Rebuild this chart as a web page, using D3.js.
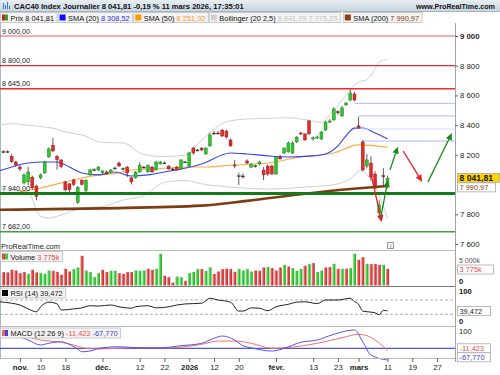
<!DOCTYPE html>
<html>
<head>
<meta charset="utf-8">
<script src="https://cdn.jsdelivr.net/npm/d3@7"></script>
<style>
  body { margin: 0; background: #fff; }
  svg text { font-family: "Liberation Sans", Arial, sans-serif; }
</style>
</head>
<body>
<div id="chart"></div>
<script>
// index 0 = 3 nov. 2025, first candle = 28 oct. (index -4), last = 11 mars 2026 (index 89)
const firstIndex = -4;
// [open, high, low, close]
const ohlc = [
  [8220,8232,8210,8222],[8222,8230,8212,8218],[8190,8205,8145,8155],[8152,8160,8120,8132],
  [8118,8130,8090,8105],[8011,8075,8000,8065],[8018,8120,7997,8085],[8050,8060,7965,7978],
  [7990,8000,7895,7920],[8045,8075,8035,8065],[8078,8160,8075,8152],[8186,8250,8180,8240],
  [8265,8315,8218,8226],[8190,8200,8100,8168],[8166,8170,8110,8120],[8018,8025,7955,7964],
  [8005,8010,7940,7965],[8031,8040,7990,8000],[7880,7990,7870,7980],[8030,8035,7995,8000],
  [7960,8035,7950,8030],[8065,8105,8060,8098],[8098,8110,8090,8100],[8098,8125,8090,8118],
  [8080,8095,8070,8092],[8085,8095,8065,8072],[8080,8105,8075,8098],[8110,8120,8100,8112],
  [8145,8155,8120,8125],[8105,8115,8095,8108],[8118,8125,8050,8078],[8045,8050,8000,8018],
  [8045,8090,8040,8085],[8085,8150,8080,8130],[8118,8125,8110,8116],[8085,8135,8080,8130],
  [8118,8125,8080,8085],[8098,8160,8095,8152],[8139,8160,8135,8152],[8145,8155,8140,8146],
  [8125,8130,8100,8105],[8105,8112,8098,8104],[8118,8125,8095,8098],[8105,8170,8100,8166],
  [8152,8160,8145,8153],[8125,8220,8120,8213],[8246,8255,8200,8213],[8233,8240,8225,8230],
  [8246,8250,8225,8233],[8206,8250,8200,8246],[8260,8350,8255,8334],[8347,8360,8335,8345],
  [8347,8360,8340,8346],[8367,8375,8320,8327],[8360,8370,8310,8320],[8300,8310,8255,8260],
  [8132,8166,8110,8125],[8058,8080,7997,8060],[8058,8075,8040,8056],[8159,8170,8140,8145],
  [8118,8140,8110,8139],[8125,8135,8115,8127],[8139,8160,8130,8152],[8098,8118,8031,8065],
  [8125,8135,8060,8071],[8125,8135,8065,8071],[8071,8190,8065,8186],[8186,8200,8170,8172],
  [8213,8250,8205,8246],[8220,8290,8215,8280],[8213,8290,8205,8280],[8287,8325,8280,8320],
  [8347,8355,8335,8341],[8341,8345,8295,8300],[8428,8435,8335,8341],[8310,8325,8295,8314],
  [8315,8330,8305,8320],[8307,8360,8300,8354],[8367,8430,8360,8421],[8420,8440,8415,8428],
  [8435,8520,8430,8509],[8490,8500,8470,8489],[8462,8530,8455,8516],[8536,8555,8530,8549],
  [8569,8640,8560,8616],[8610,8625,8560,8569],[8395,8455,8375,8385],[8287,8300,8090,8098],
  [8125,8205,8110,8166],[8145,8190,8030,8051],[8071,8090,7970,7977],[7809,7895,7782,7863],
  [8060,8110,7990,8057],[7990,8060,7975,8041.81]
];
// volume in thousands
const volumes = [
  3045,2970,3570,3410,2810,3045,2650,3570,2970,2810,2650,3410,3340,3110,2430,3800,3180,3720,4100,6750,
  3410,3045,1900,2810,3570,3045,3340,3340,2810,2650,3045,3045,3410,3340,3410,3800,3570,3800,7200,2200,
  1900,680,2050,1900,1070,2810,3045,3720,3720,3340,4100,2650,3180,3720,3800,3720,3110,3720,3410,3720,
  3180,3410,3340,4100,4180,3950,3410,4100,4700,4320,3950,3340,3800,4480,4860,5090,3045,3410,4100,4180,
  4930,3800,3800,3800,3950,7200,5840,6450,4930,4860,4930,4700,4700,3775
];
// bar colour: u = close above previous close, d = below
const volumeDir = ("dddddduddu" + "uuddddduud" + "uuuudduudd" + "dduuudduud" + "dduuduuudu" +
  "udddddduuu" + "udddudddud" + "uuududuudd" + "ududuuddud" + "ddud").split("");

// indicator readings [index, value]
const sma20 = [[-5,8092],[-2,8118],[2,8145],[6,8152],[9,8152],[12,8118],[15,8078],[19,8065],[23,8085],[27,8058],
  [31,8065],[35,8085],[39,8105],[44,8139],[51,8213],[55,8206],[60,8193],[65,8186],[71,8193],[74,8206],
  [77,8260],[79,8330],[81,8380],[83,8381],[86,8347],[89,8308.52]];
const sma50 = [[-5,7930],[0,7950],[5,7977],[11,8018],[15,8044],[19,8065],[24,8078],[27,8098],[32,8105],
  [36,8112],[40,8118],[44,8118],[52,8132],[60,8145],[68,8186],[76,8213],[82,8267],[89,8251.92]];
const sma200 = [[-5,7830],[20,7840],[44,7858],[55,7890],[68,7935],[80,7970],[89,7990.97]];
const bollUp = [[-5,8400],[-2,8410],[2,8400],[5,8390],[8,8380],[11,8355],[15,8334],[20,8284],[25,8280],
  [30,8202],[35,8189],[40,8197],[44,8300],[50,8423],[55,8441],[60,8446],[65,8450],[70,8432],[73,8420],
  [75,8470],[78,8569],[80,8640],[82,8690],[84,8705],[86,8780],[87,8825],[89,8841.79]];
const bollLow = [[-5,7975],[-2,7965],[2,7950],[3,7905],[4,7830],[5,7785],[7,7775],[10,7795],[15,7842],
  [20,7852],[25,7896],[30,7926],[35,8015],[40,8027],[45,8000],[50,7985],[55,7975],[60,7970],[65,7975],
  [70,7985],[75,7995],[80,8040],[82.5,8095],[84,8065],[86.5,7957],[89,7775.25]];
const rsi = [[-5,65],[-2,61],[0,56],[2,45],[4,37],[5,51],[7,64],[9,59],[10,42],[13,45],[15,48],[17,54],[19,53],
  [22,56],[24,51],[27,47],[28,51],[31,54],[33,48],[36,51],[38,56],[40,59],[44,61],[46,75],[48,70],[51,64],
  [53,39],[54,39],[56,48],[58,47],[60,40],[62,51],[65,58],[67,64],[69,65],[72,60],[74,70],[77,70],[80,75],
  [81,66],[82,58],[83,39],[85,36],[86,34],[87,29],[88,41],[89,39.472]];
const macd = [[-5,95],[-2,80],[1,58],[2,48],[5,19],[7,29],[10,38],[11,32],[14,-4],[15,-20],[18,-10],[19,0],
  [24,9],[29,3],[34,3],[39,15],[44,29],[47,58],[49,71],[52,48],[54,15],[56,3],[61,-16],[64,0],[68,35],
  [72,48],[76,81],[81,106],[83,38],[85,-39],[89,-67.77]];
const macdSignal = [[-5,85],[-2,75],[2,64],[5,48],[10,35],[13,19],[16,0],[19,-4],[27,3],[36,3],[44,23],
  [48,42],[52,42],[56,29],[61,0],[64,3],[72,29],[78,61],[82,81],[84,73],[89,-11.423]];

// drawn objects
const redLevels = [9000, 8800, 8645];
const greenLevels = [7940, 7682];
const blueLevels = [[81, 8547], [82, 8462], [82.5, 8374], [83, 8293]];
const arrows = [
  {from: [85, 8072], to: [87.6, 7748], color: "red"},
  {from: [87.4, 7785], to: [89.1, 8031], color: "green"},
  {from: [89.6, 8098], to: [91.5, 8255], color: "green"},
  {from: [92.8, 8226], to: [97.4, 8018], color: "red"},
  {from: [98.8, 8018], to: [104.6, 8347], color: "green"}
];

const priceTicks = [7600, 7800, 8200, 8400, 8600, 8800, 9000];
const tickIdx = [0, 5, 11, 20, 29, 35, 41, 47, 53, 62, 71, 77, 82, 89, 95, 101];
const tickText = ["nov.", "10", "18", "déc.", "12", "22", "2026", "12", "20", "févr.", "13", "23", "mars", "11", "19", "27"];
const boldTicks = ["nov.", "déc.", "2026", "févr.", "mars"];

const W = 500, H = 375, axisX = 455;
const fr = d3.formatLocale({decimal: ",", thousands: "\u00a0", grouping: [3], currency: ["", ""]});
const f0 = fr.format(",.0f"), f2 = fr.format(",.2f");

const svg = d3.select("#chart").append("svg").attr("width", W).attr("height", H);
const defs = svg.append("defs");

const x = d3.scaleLinear().domain([0, 89]).range([19.9, 387.5]);
const yP = d3.scaleLinear().domain([7600, 9000]).range([244, 36]);
const yV = d3.scaleLinear().domain([0, 5000]).range([285.5, 263.5]);
const yR = d3.scaleLinear().domain([0, 100]).range([325, 289.3]);
const yM = d3.scaleLinear().domain([0, 100]).range([348.3, 331]);

function clip(id, y0, y1) {
  defs.append("clipPath").attr("id", id).append("rect").attr("x", 0).attr("y", y0).attr("width", axisX).attr("height", y1 - y0);
  return svg.append("g").attr("clip-path", `url(#${id})`);
}

// header
const hg = defs.append("linearGradient").attr("id", "hdr").attr("x1", 0).attr("y1", 0).attr("x2", 0).attr("y2", 1);
hg.append("stop").attr("offset", 0).attr("stop-color", "#e8eef3");
hg.append("stop").attr("offset", 1).attr("stop-color", "#c8d5df");
svg.append("rect").attr("width", W).attr("height", 11).attr("fill", "url(#hdr)");
svg.append("line").attr("x1", 0).attr("x2", W).attr("y1", 11.5).attr("y2", 11.5).attr("stroke", "#a8b6c2");
[[3, 6], [5, 4], [7, 7], [9, 3]].forEach(([bx, h]) =>
  svg.append("rect").attr("x", bx).attr("y", 9 - h).attr("width", 1).attr("height", h).attr("fill", "#3a7bd5"));
svg.append("text").attr("x", 14).attr("y", 8.6).attr("font-size", 7.6).attr("font-weight", "bold").attr("fill", "#111")
  .text("CAC40 Index Journalier 8 041,81 -0,19 % 11 mars 2026, 17:35:01");
svg.append("text").attr("x", 495).attr("y", 8.6).attr("text-anchor", "end").attr("font-size", 7.2).attr("font-weight", "bold")
  .attr("fill", "#111").text("www.ProRealTime.com");

// legend boxes
function legendBox(x0, y0, icon, parts) {
  const g = svg.append("g");
  const bg = g.append("rect").attr("x", x0).attr("y", y0).attr("height", 10).attr("fill", "#f3f3f3").attr("stroke", "#c9c9c9");
  if (icon.length === 2) {
    g.append("rect").attr("x", x0 + 1.5).attr("y", y0 + 2).attr("width", 3).attr("height", 6).attr("fill", icon[0]);
    g.append("rect").attr("x", x0 + 4.5).attr("y", y0 + 2).attr("width", 3).attr("height", 6).attr("fill", icon[1]);
  } else {
    g.append("rect").attr("x", x0 + 1.5).attr("y", y0 + 2).attr("width", 6).attr("height", 6).attr("fill", icon[0]);
  }
  const t = g.append("text").attr("x", x0 + 10).attr("y", y0 + 8).attr("font-size", 7.4).attr("fill", "#111");
  parts.forEach(p => t.append("tspan").attr("fill", p[1]).text(p[0]));
  const w = t.node().getComputedTextLength() + 13;
  bg.attr("width", w);
  return w;
}
const legend = [
  {icon: ["#d42020", "#20b020"], parts: [["Prix ", "#111"], ["8 041,81", "#111"]]},
  {icon: ["#0a0aff"], parts: [["SMA (20) ", "#111"], ["8 308,52", "#2a2ae8"]]},
  {icon: ["#ff9900"], parts: [["SMA (50) ", "#111"], ["8 251,92", "#ff9a2a"]]},
  {icon: ["#cfcfcf"], parts: [["Bollinger (20 2,5) ", "#111"], ["8 841,79 7 775,25", "#c4c4c4"]]},
  {icon: ["#8a4010"], parts: [["SMA (200) ", "#111"], ["7 990,97", "#8a4010"]]}
];
let lx = 0.5;
legend.forEach((it, k) => { lx += legendBox(lx, 12.5, it.icon, it.parts) + (k === 3 ? 3 : 1); });

// panel frames
svg.append("line").attr("x1", 0.5).attr("x2", 0.5).attr("y1", 23).attr("y2", 358).attr("stroke", "#a9b8c6");
[250.5, 286.5, 326.5].forEach(yy =>
  svg.append("line").attr("x1", 0).attr("x2", axisX).attr("y1", yy).attr("y2", yy).attr("stroke", yy === 286.5 ? "#777" : "#bbb"));
svg.append("line").attr("x1", axisX + 0.5).attr("x2", axisX + 0.5).attr("y1", 23).attr("y2", 362).attr("stroke", "#9aa6b0");

// ---- price panel
const pp = clip("cp", 23, 250);
const line = d3.line().x(d => x(d[0])).y(d => yP(d[1])).curve(d3.curveMonotoneX);
pp.append("path").attr("d", line(bollUp)).attr("fill", "none").attr("stroke", "#cfcfcf").attr("stroke-width", 1);
pp.append("path").attr("d", line(bollLow)).attr("fill", "none").attr("stroke", "#cfcfcf").attr("stroke-width", 1);
pp.append("path").attr("d", line(sma50)).attr("fill", "none").attr("stroke", "#ffab40").attr("stroke-width", 1.1);
pp.append("path").attr("d", line(sma20)).attr("fill", "none").attr("stroke", "#3344ee").attr("stroke-width", 1.1);

redLevels.forEach((v, k) => pp.append("line").attr("x1", 0).attr("x2", axisX).attr("y1", yP(v)).attr("y2", yP(v))
  .attr("stroke", "#ee2a2a").attr("stroke-width", k === 0 ? 1 : 1.3).attr("opacity", k === 0 ? 0.75 : 1));
blueLevels.forEach(([i, v], k) => pp.append("line").attr("x1", x(i)).attr("x2", axisX).attr("y1", yP(v)).attr("y2", yP(v))
  .attr("stroke", k === 2 ? "#d4def7" : "#aabdf0").attr("stroke-width", 1));

// candles
const candles = pp.selectAll("g.candle").data(ohlc).enter().append("g").attr("class", "candle")
  .attr("transform", (d, k) => `translate(${x(firstIndex + k)},0)`);
candles.append("line").attr("y1", d => yP(d[1])).attr("y2", d => yP(d[2])).attr("stroke", "#333").attr("stroke-width", 0.8);
candles.append("rect").attr("x", -1.5).attr("width", 3)
  .attr("y", d => yP(Math.max(d[0], d[3])))
  .attr("height", d => Math.max(1, Math.abs(yP(d[0]) - yP(d[3]))))
  .attr("fill", d => Math.abs(d[3] - d[0]) < 4 ? "#333" : d[3] >= d[0] ? "#2fc42f" : "#e32b2b")
  .attr("stroke", d => d[3] >= d[0] ? "#1a7a1a" : "#8a1515").attr("stroke-width", 0.4);

pp.append("path").attr("d", line(sma200)).attr("fill", "none").attr("stroke", "#7d3c12").attr("stroke-width", 2.6);
greenLevels.forEach((v, k) => pp.append("line").attr("x1", 0).attr("x2", axisX).attr("y1", yP(v)).attr("y2", yP(v))
  .attr("stroke", k === 0 ? "#16791a" : "#3aa33a").attr("stroke-width", k === 0 ? 3 : 1.4));

// arrows
arrows.forEach(a => {
  const x1 = x(a.from[0]), y1 = yP(a.from[1]), x2 = x(a.to[0]), y2 = yP(a.to[1]);
  const col = a.color === "red" ? "#e81c1c" : "#1a8a1a";
  const ang = Math.atan2(y2 - y1, x2 - x1), L = 7, Wd = 3.2;
  const bx = x2 - L * Math.cos(ang), by = y2 - L * Math.sin(ang);
  pp.append("line").attr("x1", x1).attr("y1", y1).attr("x2", bx).attr("y2", by).attr("stroke", col).attr("stroke-width", 1.3);
  pp.append("path").attr("fill", col).attr("d",
    `M${x2},${y2}L${bx + Wd * Math.sin(ang)},${by - Wd * Math.cos(ang)}L${bx - Wd * Math.sin(ang)},${by + Wd * Math.cos(ang)}Z`);
});

// level labels
redLevels.concat(greenLevels).forEach(v => svg.append("text").attr("x", 2).attr("y", yP(v) - 2.5).attr("font-size", 7.2)
  .attr("fill", "#222").text(f2(v)));
svg.append("text").attr("x", 1).attr("y", 249).attr("font-size", 7.4).attr("fill", "#222").text("ProRealTime.com");
svg.append("rect").attr("x", 387.5).attr("y", 242.5).attr("width", 6).attr("height", 6).attr("fill", "#f4f4f4").attr("stroke", "#999");
svg.append("text").attr("x", 390.5).attr("y", 247.8).attr("text-anchor", "middle").attr("font-size", 5.5).attr("fill", "#666").text("i");

// price axis
const ay = svg.append("g").attr("transform", `translate(${axisX},0)`)
  .call(d3.axisRight(yP).tickValues(priceTicks).tickSize(3).tickPadding(2).tickFormat(f0));
ay.select(".domain").remove();
ay.selectAll("line").attr("stroke", "#666");
ay.selectAll("text").attr("font-size", 7.8).attr("fill", "#222").attr("font-family", null)
  .attr("font-weight", d => d === 9000 ? "bold" : null);

function tag(yc, txt, col, fill, bold, w) {
  svg.append("rect").attr("x", axisX + 2.5).attr("y", yc - 4.5).attr("width", w).attr("height", 9)
    .attr("fill", fill).attr("stroke", "#aaa").attr("stroke-width", 0.8);
  svg.append("text").attr("x", axisX + 4.5).attr("y", yc + 3).attr("font-size", bold ? 8.6 : 7.4)
    .attr("font-weight", bold ? "bold" : null).attr("fill", col).text(txt);
}
tag(yP(8041.81) - 0.5, f2(8041.81), "#111", "#ffd500", true, 42);
tag(yP(8041.81) + 9, f2(7990.97), "#8a4010", "#fff", false, 38);

// ---- volume panel
const vgrad = (id, c0, c1, c2) => {
  const g = defs.append("linearGradient").attr("id", id);
  g.append("stop").attr("offset", 0).attr("stop-color", c0);
  g.append("stop").attr("offset", 0.5).attr("stop-color", c1);
  g.append("stop").attr("offset", 1).attr("stop-color", c2);
};
vgrad("vr", "#f6b0b0", "#e04848", "#c02a2a");
vgrad("vg", "#b0f0b0", "#3ccc3c", "#22a822");
const vp = clip("cv", 251, 286);
vp.selectAll("rect.vol").data(volumes).enter().append("rect").attr("class", "vol")
  .attr("x", (d, k) => x(firstIndex + k) - 1.6).attr("width", 3.2)
  .attr("y", d => yV(d)).attr("height", d => yV(0) - yV(d))
  .attr("fill", (d, k) => volumeDir[k] === "u" ? "url(#vg)" : "url(#vr)");
legendBox(0.5, 251.5, ["#e04848", "#3ccc3c"], [["Volume ", "#111"], ["3 775k", "#e04848"]]);
svg.append("text").attr("x", axisX + 4).attr("y", 262.6).attr("font-size", 7).attr("fill", "#555").text("5 000k");
svg.append("text").attr("x", axisX + 4).attr("y", 284.3).attr("font-size", 7.6).attr("font-weight", "bold").attr("fill", "#111").text("0");
tag(yV(3775) + 0.6, "3 775k", "#e04848", "#fff", false, 36);

// ---- RSI panel
const rp = clip("cr", 287, 326);
[70, 30].forEach(v => rp.append("line").attr("x1", 0).attr("x2", axisX).attr("y1", yR(v)).attr("y2", yR(v))
  .attr("stroke", "#999").attr("stroke-dasharray", "3,2").attr("stroke-width", 0.8));
rp.append("path").attr("d", d3.line().x(d => x(d[0])).y(d => yR(d[1])).curve(d3.curveMonotoneX)(rsi))
  .attr("fill", "none").attr("stroke", "#222").attr("stroke-width", 1);
legendBox(0.5, 288, ["#000"], [["RSI (14) 39,472", "#111"]]);
svg.append("text").attr("x", axisX + 4).attr("y", 293.6).attr("font-size", 7.6).attr("font-weight", "bold").attr("fill", "#111").text("100");
svg.append("text").attr("x", axisX + 4).attr("y", 324).attr("font-size", 7.6).attr("font-weight", "bold").attr("fill", "#111").text("0");
tag(yR(39.472), "39,472", "#222", "#fff", false, 33);

// ---- MACD panel
const mp = clip("cm", 327, 362);
mp.append("line").attr("x1", 0).attr("x2", axisX).attr("y1", yM(0)).attr("y2", yM(0)).attr("stroke", "#2a2ad0").attr("stroke-width", 1);
const ml = d3.line().x(d => x(d[0])).y(d => yM(d[1])).curve(d3.curveMonotoneX);
mp.append("path").attr("d", ml(macdSignal)).attr("fill", "none").attr("stroke", "#f07070").attr("stroke-width", 1);
mp.append("path").attr("d", ml(macd)).attr("fill", "none").attr("stroke", "#5555f0").attr("stroke-width", 1);
legendBox(0.5, 328, ["#f06060", "#4040f0"], [["MACD (12 26 9) ", "#111"], ["-11,423 ", "#e85050"], ["-67,770", "#3a3ae8"]]);
svg.append("text").attr("x", axisX + 4).attr("y", 334).attr("font-size", 7.6).attr("fill", "#222").text("100");
tag(yM(0), "-11,423", "#e85050", "#fff", false, 33);
tag(yM(0) + 9, "-67,770", "#3a3ae8", "#fff", false, 33);

// ---- date axis
const ax = svg.append("g").attr("transform", "translate(0,358)")
  .call(d3.axisBottom(x).tickValues(tickIdx).tickSize(4).tickPadding(2).tickFormat((d, k) => tickText[k]));
ax.select(".domain").attr("stroke", "#bbb").attr("d", `M0,0.5H${axisX}`);
ax.selectAll("line").attr("stroke", "#666");
ax.selectAll("text").attr("font-size", 7.8).attr("fill", "#222").attr("font-family", null)
  .attr("font-weight", (d, k) => boldTicks.includes(tickText[k]) ? "bold" : null);
</script>
</body>
</html>
